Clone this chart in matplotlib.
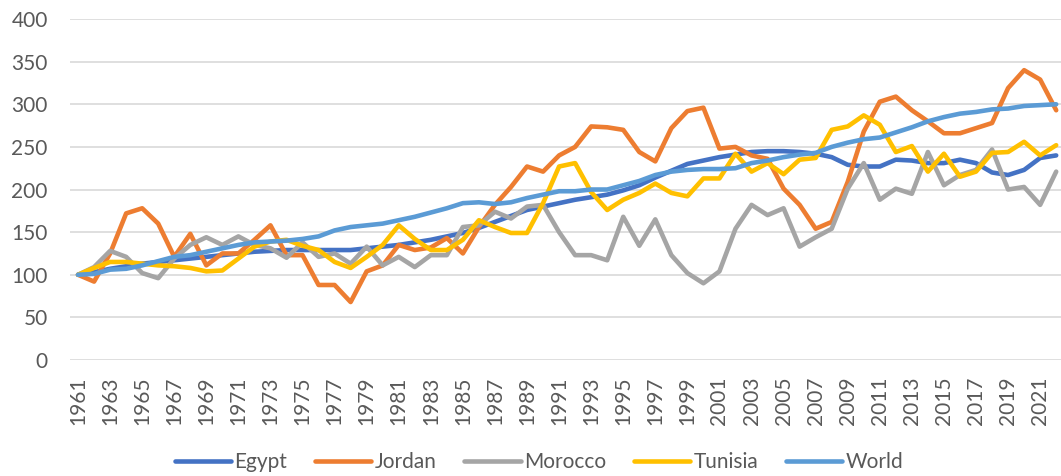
import matplotlib
matplotlib.use("Agg")
import matplotlib.pyplot as plt

plt.rcParams.update({
    "font.family": ["Lato", "DejaVu Sans"],
})

# Office palette
COLOR_EGYPT = "#4472C4"
COLOR_JORDAN = "#ED7D31"
COLOR_MOROCCO = "#A5A5A5"
COLOR_TUNISIA = "#FFC000"
COLOR_WORLD = "#5B9BD5"
COLOR_GRID = "#D9D9D9"
COLOR_TEXT = "#595959"

years = list(range(1961, 2023))

egypt = [100, 103, 107, 110, 113, 115, 117, 119, 121, 123,
         125, 127, 128, 129, 129, 129, 129, 129, 131, 133,
         135, 138, 141, 145, 149, 155, 162, 169, 176, 180,
         184, 188, 191, 194, 199, 205, 214, 222, 230, 234,
         238, 241, 244, 245, 245, 244, 242, 238, 229, 227,
         227, 235, 234, 231, 231, 235, 231, 220, 217, 223,
         237, 240]

jordan = [100, 92, 125, 172, 178, 160, 121, 148, 111, 125,
          125, 141, 158, 123, 123, 88, 88, 68, 104, 111,
          135, 129, 132, 143, 125, 156, 182, 203, 227, 221,
          240, 250, 274, 273, 270, 244, 233, 272, 292, 296,
          248, 250, 240, 236, 201, 182, 154, 162, 209, 268,
          303, 309, 293, 280, 266, 266, 272, 278, 319, 340,
          329, 293]

morocco = [100, 109, 128, 121, 102, 96, 119, 135, 144, 135,
           145, 135, 131, 120, 138, 121, 125, 113, 133, 111,
           121, 109, 123, 123, 156, 158, 174, 166, 180, 182,
           150, 123, 123, 117, 168, 134, 165, 123, 102, 90,
           104, 154, 182, 170, 178, 133, 144, 154, 201, 231,
           188, 201, 195, 244, 205, 217, 223, 247, 200, 203,
           182, 221]

tunisia = [100, 108, 115, 115, 113, 111, 110, 108, 104, 105,
           119, 133, 139, 141, 134, 129, 115, 108, 121, 135,
           158, 142, 129, 129, 141, 164, 156, 149, 149, 184,
           227, 231, 197, 176, 188, 196, 207, 196, 192, 213,
           213, 242, 221, 231, 218, 235, 237, 270, 274, 287,
           276, 244, 251, 221, 242, 215, 221, 243, 244, 256,
           240, 252]

world = [100, 101, 106, 107, 111, 116, 121, 123, 127, 131,
         135, 138, 139, 140, 142, 145, 152, 156, 158, 160,
         164, 168, 173, 178, 184, 185, 183, 185, 190, 194,
         198, 198, 200, 200, 205, 210, 217, 221, 223, 224,
         224, 225, 231, 234, 238, 241, 243, 250, 255, 259,
         261, 267, 273, 280, 285, 289, 291, 294, 295, 298,
         299, 300]

series = [
    ("Egypt", egypt, COLOR_EGYPT),
    ("Jordan", jordan, COLOR_JORDAN),
    ("Morocco", morocco, COLOR_MOROCCO),
    ("Tunisia", tunisia, COLOR_TUNISIA),
    ("World", world, COLOR_WORLD),
]

y_ticks = list(range(0, 401, 50))
x_ticks = years[::2]


def main():
    fig = plt.figure(figsize=(10.61, 4.76), dpi=100)
    fig.patch.set_facecolor("white")
    ax = fig.add_axes([0.066, 0.2437, 0.934, 0.7163])

    for name, vals, color in series:
        ax.plot(years, vals, color=color, lw=3.3, label=name,
                solid_capstyle="round", solid_joinstyle="round", zorder=3)

    ax.set_xlim(1960.5, 2022.3)
    ax.set_ylim(0, 400)
    ax.set_yticks(y_ticks)
    ax.set_xticks(x_ticks)
    ax.set_xticklabels([str(y) for y in x_ticks], rotation=90)
    ax.tick_params(axis="y", length=0, pad=16, labelsize=15, colors=COLOR_TEXT)
    ax.tick_params(axis="x", length=0, pad=12, labelsize=15, colors=COLOR_TEXT)
    ax.grid(axis="y", color=COLOR_GRID, lw=1.2, zorder=0)
    ax.set_axisbelow(True)
    for spine in ax.spines.values():
        spine.set_visible(False)

    fig.legend(
        loc="center", bbox_to_anchor=(0.508, 0.029), ncol=5, frameon=False,
        fontsize=15, handlelength=2.7, handletextpad=0.15, columnspacing=1.35,
        labelcolor=COLOR_TEXT,
    )

    fig.savefig("out.png", dpi=100, facecolor="white")


if __name__ == "__main__":
    main()
